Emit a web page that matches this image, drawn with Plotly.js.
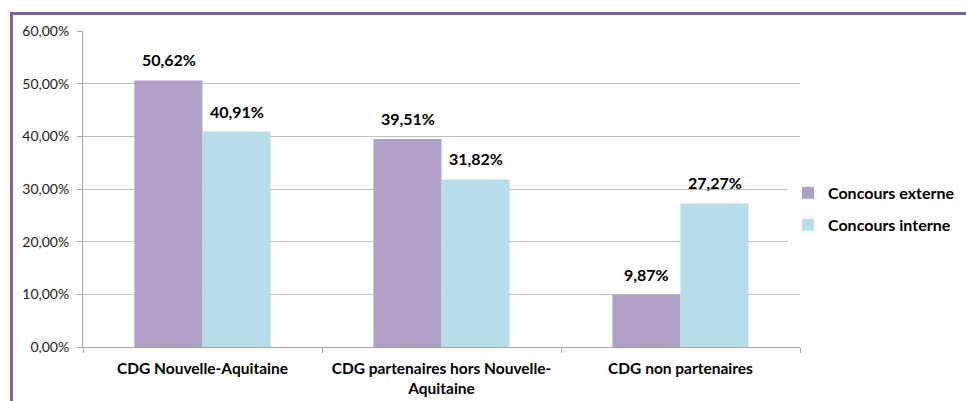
<!DOCTYPE html>
<html>
<head>
<meta charset="utf-8">
<script src="https://cdn.plot.ly/plotly-3.0.1.min.js"></script>
<style>
  body { margin: 0; background: #fff; }
  #chart { position: absolute; left: 0; top: 0; width: 966px; height: 401px; }
  #frame {
    position: absolute; left: 10px; top: 12px; width: 956px; height: 389px;
    border-top: 3px solid #8064a2; border-left: 3px solid #8064a2;
    box-sizing: border-box; pointer-events: none;
  }
</style>
</head>
<body>
<div id="chart"></div>
<div id="frame"></div>
<script>
// categories and values
const categories = ['CDG Nouvelle-Aquitaine', 'CDG partenaires hors Nouvelle-<br>Aquitaine', 'CDG non partenaires'];
const seriesNames = ['Concours externe', 'Concours interne'];
const externe = [0.5062, 0.3951, 0.0987];
const interne = [0.4091, 0.3182, 0.2727];
const colors = ['#b1a0c7', '#b7dee8'];

const font = 'Lato, "Open Sans", sans-serif';
const fmt = v => (v * 100).toFixed(2).replace('.', ',') + '%';

const data = [
  { type: 'bar', name: seriesNames[0], x: categories, y: externe, marker: { color: colors[0] }, legendgroup: 'a' },
  { type: 'bar', name: seriesNames[1], x: categories, y: interne, marker: { color: colors[1] }, legendgroup: 'b' }
];

// value labels above bars, shifted left/right to sit over each bar of the group
const annotations = [];
[externe, interne].forEach((vals, s) => {
  vals.forEach((v, i) => {
    annotations.push({
      x: categories[i], y: v, xref: 'x', yref: 'y',
      text: fmt(v), showarrow: false, yanchor: 'bottom',
      xshift: s === 0 ? -34 : 34, yshift: 9,
      font: { family: font, size: 16, weight: 'bold', color: '#000' }
    });
  });
});

const layout = {
  width: 966, height: 401,
  margin: { l: 83, r: 166, t: 31, b: 54, autoexpand: false },
  separators: ', ',
  paper_bgcolor: '#fff', plot_bgcolor: '#fff',
  font: { family: font, color: '#000' },
  barmode: 'group', bargap: 0.43, bargroupgap: 0,
  showlegend: true,
  annotations: annotations,
  legend: {
    xref: 'container', yref: 'container',
    x: 788 / 966, y: 1 - 209 / 401, yanchor: 'middle', xanchor: 'left',
    font: { family: font, size: 16, weight: 'bold', color: '#000' },
    tracegroupgap: 8, itemwidth: 30
  },
  xaxis: {
    type: 'category', showline: true, linecolor: '#a6a6a6', linewidth: 1,
    ticks: 'outside', tickson: 'boundaries', ticklen: 5, tickcolor: '#a6a6a6',
    ticklabelstandoff: 7,
    tickfont: { family: font, size: 15.5, weight: 'bold', color: '#000' },
    showgrid: false
  },
  yaxis: {
    range: [0, 0.6], dtick: 0.1, tickformat: '.2%',
    showline: true, linecolor: '#a6a6a6', linewidth: 1,
    ticks: 'outside', ticklen: 5, tickcolor: '#a6a6a6',
    ticklabelstandoff: 5,
    showgrid: true, gridcolor: '#bfbfbf', gridwidth: 1, zeroline: false,
    tickfont: { family: font, size: 14, color: '#222' }
  }
};

Plotly.newPlot('chart', data, layout, { displayModeBar: false });
</script>
</body>
</html>
